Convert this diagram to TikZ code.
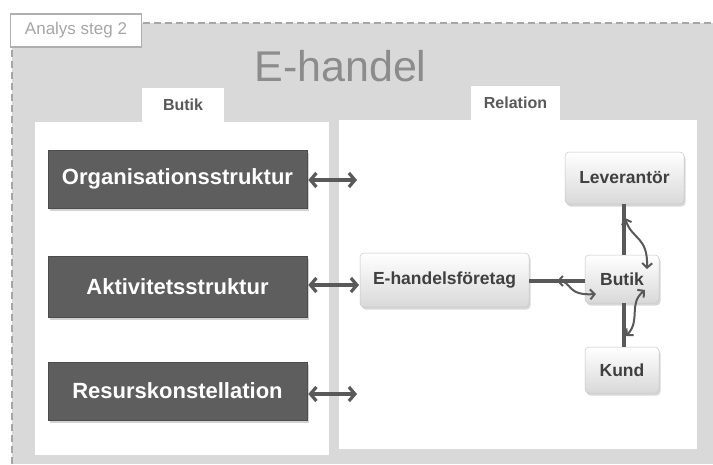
\documentclass[tikz,border=0pt]{standalone}
\usepackage{fontspec}
\setmainfont{Liberation Sans}
\usetikzlibrary{arrows.meta,shadows}
\definecolor{areagray}{HTML}{D9D9D9}
\definecolor{dashgray}{HTML}{A6A6A6}
\definecolor{titlegray}{HTML}{8C8C8C}
\definecolor{darkbox}{HTML}{5E5E5E}
\definecolor{linkgray}{HTML}{595959}
\definecolor{textdark}{HTML}{404040}
\tikzset{
  darkstep/.style={draw=gray!60!black, line width=0.6pt, fill=darkbox, text=white,
    font=\fontsize{22}{24}\selectfont\bfseries, inner sep=0pt,
    minimum width=259pt, minimum height=58pt,
    drop shadow={shadow xshift=2pt, shadow yshift=-3pt, opacity=0.35}},
  lightbox/.style={draw=gray!45, line width=0.5pt, rounded corners=4pt,
    top color=white, bottom color=gray!30, text=textdark,
    font=\fontsize{17.5}{20}\selectfont\bfseries, inner sep=0pt,
    drop shadow={shadow xshift=1.5pt, shadow yshift=-2.5pt, opacity=0.3}},
  panel/.style={fill=white, draw=none},
  tab/.style={fill=white, draw=none, text=linkgray, font=\fontsize{16}{18}\selectfont\bfseries, inner sep=0pt},
  bigarrow/.style={linkgray, line width=3.2pt,
    {Straight Barb[length=6pt,width=14pt]}-{Straight Barb[length=6pt,width=14pt]}},
  link/.style={linkgray, line width=3.2pt},
  wavyarrow/.style={linkgray, line width=2pt,
    {Straight Barb[length=4.5pt,width=10pt]}-{Straight Barb[length=4.5pt,width=10pt]}}
}
\begin{document}
\begin{tikzpicture}[x=1pt,y=-1pt]
  \useasboundingbox (0,0) rectangle (713,464);
  \fill[white] (0,0) rectangle (713,464);

  % grey analysis area with dashed border
  \fill[areagray] (12,23) rectangle (713,464);
  \draw[dashgray, line width=2pt, dash pattern=on 7pt off 4pt] (12,464) -- (12,23) -- (713,23);

  % corner label
  \node[draw=dashgray!90, line width=1.2pt, fill=white, text=dashgray, inner sep=0pt,
        minimum width=131pt, minimum height=33pt, font=\fontsize{17}{19}\selectfont]
        (steg) at (76,30.5) {Analys steg 2};

  % title
  \node[text=titlegray, font=\fontsize{43}{46}\selectfont] (title) at (340.5,66) {E-handel};

  % panels with tabs
  \fill[panel] (35,122) rectangle (329,455);
  \fill[panel] (339,120) rectangle (697,449);
  \node[tab, minimum width=82pt, minimum height=34pt] (tabbutik) at (183,105) {Butik};
  \node[tab, minimum width=89pt, minimum height=34pt] (tabrel) at (515.5,103) {Relation};

  % structure boxes
  \node[darkstep] (org) at (177.5,179) {Organisationsstruktur};
  \node[darkstep, minimum height=61pt] (akt) at (177.5,286.5) {Aktivitetsstruktur};
  \node[darkstep] (res) at (177.5,391) {Resurskonstellation};

  % relation boxes
  \node[lightbox, minimum width=169pt, minimum height=54pt] (ef) at (444.5,280) {E-handelsföretag};
  \node[lightbox, minimum width=74pt, minimum height=48pt] (but) at (622,279) {Butik};
  \node[lightbox, minimum width=119pt, minimum height=52pt] (lev) at (624.5,178) {Leverantör};
  \node[lightbox, minimum width=74pt, minimum height=46pt] (kund) at (622,370) {Kund};

  % arrow end points in the relation panel
  \coordinate (orgend) at (357,180);
  \coordinate (aktend) at (359,285);
  \coordinate (resend) at (357,394);

  % double arrows from the structures
  \draw[bigarrow] ([xshift=1pt]org.east |- orgend) -- (orgend);
  \draw[bigarrow] ([xshift=1pt]akt.east |- aktend) -- (aktend);
  \draw[bigarrow] ([xshift=1pt]res.east |- resend) -- (resend);

  % links between the actors
  \coordinate (linky) at (0,281);
  \coordinate (linkx) at (624,0);
  \draw[link] (ef.east |- linky) -- (but.west |- linky);
  \draw[link] (lev.south -| linkx) -- (but.north -| linkx);
  \draw[link] (but.south -| linkx) -- (kund.north -| linkx);

  % wavy two-way flows
  \coordinate (w1a) at (557,281);
  \coordinate (w1b) at (596,294);
  \draw[wavyarrow] (w1a) .. controls (572,281) and (566,296) .. (w1b);
  \coordinate (w2a) at (625,218);
  \coordinate (w2b) at (647,269);
  \draw[wavyarrow] (w2a) .. controls (632,240) and (648,236) .. (w2b);
  \coordinate (w3a) at (645,290);
  \coordinate (w3b) at (626,336);
  \draw[wavyarrow] (w3a) .. controls (628,304) and (641,320) .. (w3b);
\end{tikzpicture}
\end{document}
